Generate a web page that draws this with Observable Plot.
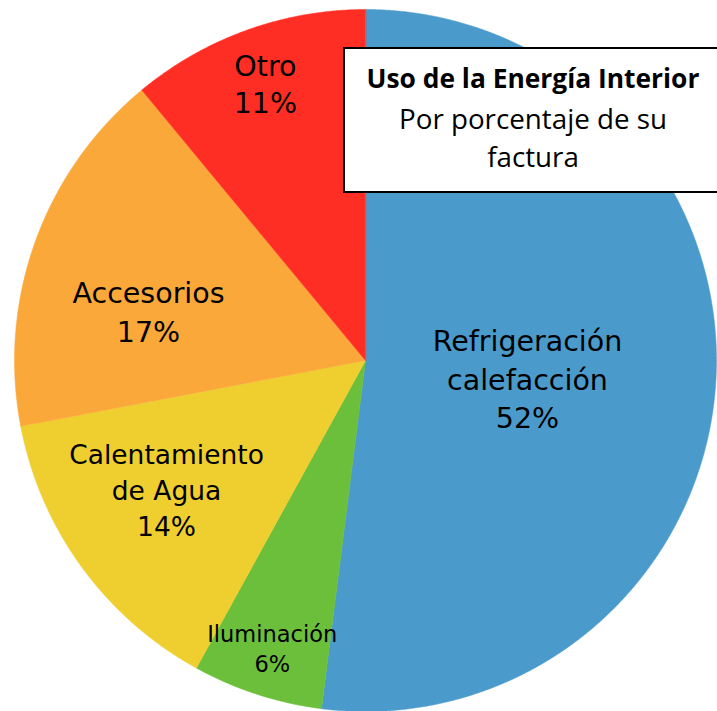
<!DOCTYPE html>
<html><head><meta charset="utf-8">
<script src="https://cdn.jsdelivr.net/npm/d3@7"></script>
<script src="https://cdn.jsdelivr.net/npm/@observablehq/plot@0.6"></script>
<style>
body{margin:0;background:#fff;}
#wrap{position:relative;width:717px;height:711px;overflow:hidden;}
#box{position:absolute;left:343px;top:47px;width:378px;height:146px;border:2px solid #000;background:#fff;box-sizing:border-box;}
#box svg{position:absolute;left:0;top:0;}
</style></head>
<body><div id="wrap"><div id="chart"></div>
<div id="box"></div></div>
<script>
// Data (clockwise from 12 o'clock)
const categories = ["Refrigeración\ncalefacción", "Iluminación", "Calentamiento\nde Agua", "Accesorios", "Otro"];
const values = [52, 6, 14, 17, 11];
const colors = ["#4A9BCB", "#6CBF3A", "#EFCF30", "#FBA83A", "#FF2E25"];
const titleLines = ["Uso de la Energía Interior", "Por porcentaje de su", "factura"];
// label placement: angle offset (deg) from slice middle, radius fraction; label styles
const labelAngleOffset = [2.4, 0, 3.25, -6.6, 0];
const labelRadius = [0.464, 0.86, 0.674, 0.635, 0.842];
const labelFontSize = [28.5, 22.5, 26.5, 28.5, 28.5];
const labelLineHeight = [38.5, 30, 36, 39, 37];

const W = 717, H = 711, cx = 365, cy = 360, R = 351;
const pie = d3.pie().sort(null).value(d => d)(values);

const poly = [];
pie.forEach((p, i) => {
  poly.push({k: i, u: 0, v: 0});
  const n = Math.max(2, Math.ceil((p.endAngle - p.startAngle) / 0.005));
  for (let j = 0; j <= n; j++) {
    const a = p.startAngle + (p.endAngle - p.startAngle) * j / n;
    poly.push({k: i, u: Math.sin(a), v: Math.cos(a)});
  }
});

const labels = pie.map((p, i) => {
  const a = (p.startAngle + p.endAngle) / 2 + labelAngleOffset[i] * Math.PI / 180;
  return {i, text: categories[i] + "\n" + values[i] + "%", u: labelRadius[i] * Math.sin(a), v: labelRadius[i] * Math.cos(a)};
});

const chart = Plot.plot({
  width: W, height: H, margin: 0,
  x: {domain: [-cx / R, (W - cx) / R], axis: null},
  y: {domain: [-(H - cy) / R, cy / R], axis: null},
  marks: [
    Plot.line(poly, {x: "u", y: "v", z: "k", fill: d => colors[d.k], stroke: d => colors[d.k], strokeWidth: 0.5, curve: "linear-closed"}),
    ...labels.map(d => Plot.text([d], {x: "u", y: "v", text: "text", fontSize: labelFontSize[d.i],
      lineHeight: labelLineHeight[d.i] / labelFontSize[d.i], fill: "#000", fontFamily: "DejaVu Sans"}))
  ]
});
chart.style.fontFamily = "DejaVu Sans";
document.getElementById("chart").append(chart);

// Title box (overlay), font sized to fit the reference widths
const ctx = document.createElement("canvas").getContext("2d");
function fit(text, weight, family, target) {
  ctx.font = `${weight} 100px ${family}`;
  return 100 * target / ctx.measureText(text).width;
}
const fam = "'Open Sans'";
const boxW = 378, midX = 188;
const s1 = fit(titleLines[0], "bold", fam, 333);
const s2 = fit(titleLines[1], "normal", fam, 268);
const ns = "http://www.w3.org/2000/svg";
const svg = document.createElementNS(ns, "svg");
svg.setAttribute("width", boxW); svg.setAttribute("height", 146);
[[titleLines[0], "bold", s1, 39], [titleLines[1], "normal", s2, 80], [titleLines[2], "normal", s2, 118]].forEach(([t, w, s, y]) => {
  const el = document.createElementNS(ns, "text");
  el.setAttribute("x", midX); el.setAttribute("y", y);
  el.setAttribute("text-anchor", "middle");
  el.setAttribute("font-family", "Open Sans");
  el.setAttribute("font-weight", w);
  el.setAttribute("font-size", s);
  el.textContent = t;
  svg.append(el);
});
document.getElementById("box").append(svg);
</script>
</body></html>
